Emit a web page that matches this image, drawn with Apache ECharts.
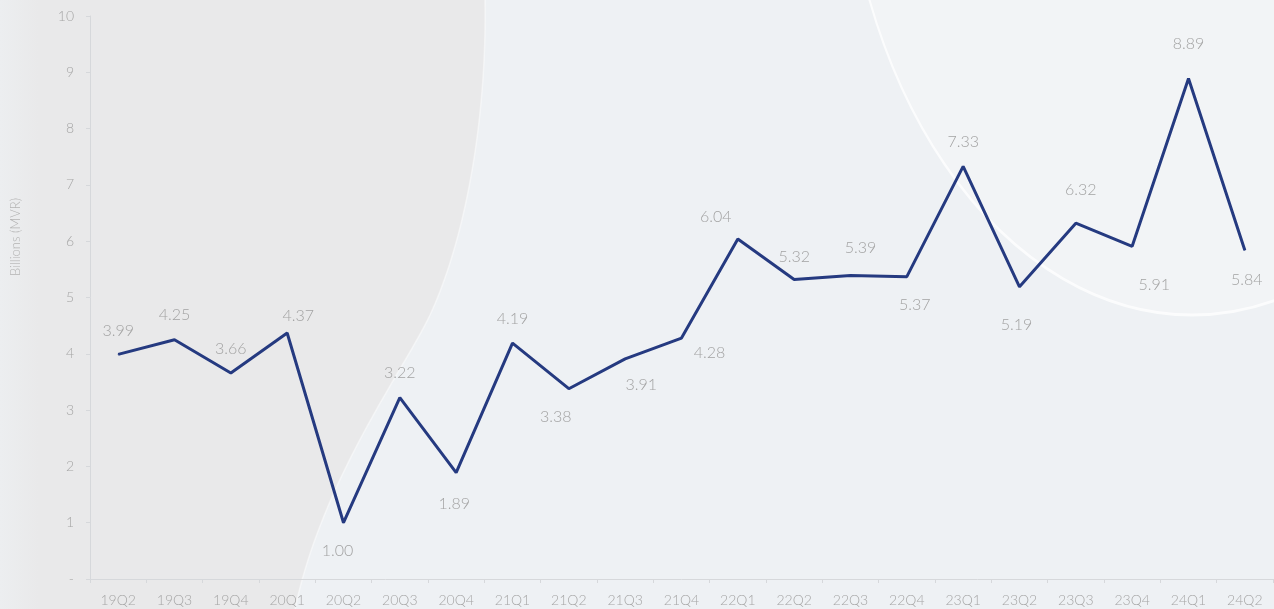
<!DOCTYPE html>
<html>
<head>
<meta charset="utf-8">
<script src="https://cdn.jsdelivr.net/npm/echarts@6/dist/echarts.min.js"></script>
<style>
  html, body { margin: 0; padding: 0; background: #eef1f4; }
  #chart { width: 1274px; height: 609px; }
</style>
</head>
<body>
<div id="chart"></div>
<script>
// Quarterly values, billions of MVR
const quarters = ['19Q2','19Q3','19Q4','20Q1','20Q2','20Q3','20Q4','21Q1','21Q2','21Q3','21Q4',
                  '22Q1','22Q2','22Q3','22Q4','23Q1','23Q2','23Q3','23Q4','24Q1','24Q2'];
const values = [3.99, 4.25, 3.66, 4.37, 1.00, 3.22, 1.89, 4.19, 3.38, 3.91, 4.28,
                6.04, 5.32, 5.39, 5.37, 7.33, 5.19, 6.32, 5.91, 8.89, 5.84];
const yTicks = ['-', '1', '2', '3', '4', '5', '6', '7', '8', '9', '10'];

// Nudge of each value label away from its point, [dx, dy] in px
const labelNudge = [[0,-24],[0,-25],[0,-24],[11,-17],[-6,28],[0,-25],[-2,31],[0,-24],[-13,28],[16,26],[28,15],
                    [-22,-22],[0,-23],[10,-28],[8,28],[0,-24],[-3,38],[5,-33],[22,39],[0,-35],[2,30]];

const FONT = 'Lato, "Open Sans", "DejaVu Sans", sans-serif';

// Sweeping edge of the darker left panel, sampled from two cubic curves
function cubic(p0, p1, p2, p3, n) {
  const pts = [];
  for (let k = 0; k <= n; k++) {
    const t = k / n, u = 1 - t;
    pts.push([
      u*u*u*p0[0] + 3*u*u*t*p1[0] + 3*u*t*t*p2[0] + t*t*t*p3[0],
      u*u*u*p0[1] + 3*u*u*t*p1[1] + 3*u*t*t*p2[1] + t*t*t*p3[1]
    ]);
  }
  return pts;
}
const edge = cubic([485, 0], [487, 120], [465, 240], [430, 315], 40)
  .concat(cubic([430, 315], [405, 368], [322, 480], [295, 609], 40).slice(1));
const panel = [[0, 0]].concat(edge, [[0, 609]]);

const chart = echarts.init(document.getElementById('chart'), null, { renderer: 'canvas' });

chart.setOption({
  backgroundColor: '#eef1f4',
  animation: false,
  graphic: [
    {
      type: 'polygon', z: -10, silent: true,
      shape: { points: panel },
      style: {
        fill: {
          type: 'linear', x: 0, y: 0, x2: 1, y2: 0,
          colorStops: [
            { offset: 0, color: '#eceef0' },
            { offset: 0.08, color: '#e9e9ea' },
            { offset: 1, color: '#e9e9ea' }
          ]
        }
      }
    },
    {
      type: 'polyline', z: -9, silent: true,
      shape: { points: edge },
      style: { stroke: 'rgba(255,255,255,0.45)', lineWidth: 1.5, fill: null }
    },
    // pale oval in the top-right corner
    {
      type: 'circle', z: -9, silent: true,
      x: 1192, y: -200, scaleX: 1, scaleY: 515 / 350,
      shape: { cx: 0, cy: 0, r: 350 },
      style: { fill: '#f2f4f6', stroke: 'rgba(255,255,255,0.75)', lineWidth: 2, strokeNoScale: true }
    },
    // axis title
    {
      type: 'text', z: 5, silent: true,
      x: 16, y: 237, rotation: Math.PI / 2,
      style: {
        text: 'Billions (MVR)', fill: '#b4b4b4',
        font: '300 13px ' + FONT, align: 'center', verticalAlign: 'middle'
      }
    }
  ],
  grid: { left: 90, right: 1, top: 16, bottom: 30 },
  xAxis: {
    type: 'category',
    data: quarters,
    boundaryGap: true,
    axisLine: { lineStyle: { color: '#d6d8db', width: 1 } },
    axisTick: { show: true, length: 4, lineStyle: { color: '#d6d8db' } },
    axisLabel: { color: '#a6a6a6', fontSize: 14, fontFamily: FONT, fontWeight: 300, margin: 14 }
  },
  yAxis: {
    type: 'value',
    min: 0, max: 10, interval: 1,
    axisLine: { show: true, lineStyle: { color: '#d6d8db', width: 1 } },
    axisTick: { show: true, length: 4, lineStyle: { color: '#d6d8db' } },
    splitLine: { show: false },
    axisLabel: {
      color: '#a6a6a6', fontSize: 14, fontFamily: FONT, fontWeight: 300, margin: 16,
      formatter: (v) => yTicks[Math.round(v)]
    }
  },
  series: [{
    type: 'line',
    data: values.map((v, i) => ({
      value: v,
      label: { offset: labelNudge[i] }
    })),
    symbol: 'circle',
    symbolSize: 1,
    itemStyle: { color: '#253a80' },
    lineStyle: { color: '#253a80', width: 3 },
    label: {
      show: true,
      position: 'inside',
      color: '#a3a3a3',
      fontSize: 16,
      fontFamily: FONT,
      fontWeight: 300,
      formatter: (p) => p.value.toFixed(2)
    }
  }]
});
</script>
</body>
</html>
